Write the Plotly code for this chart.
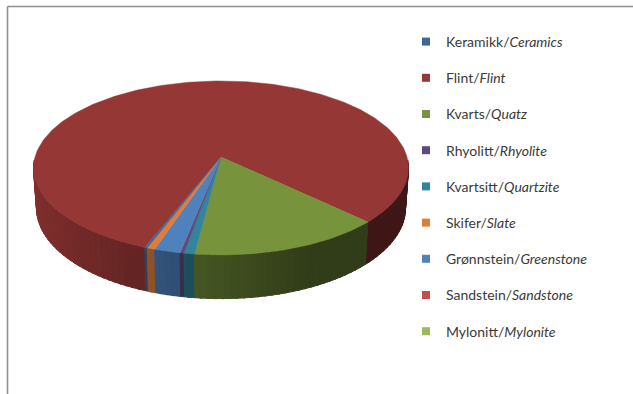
import numpy as np
import plotly.graph_objects as go

# ---- data -------------------------------------------------------------
categories = ["Keramikk", "Flint", "Kvarts", "Rhyolitt", "Kvartsitt",
              "Skifer", "Grønnstein", "Sandstein", "Mylonitt"]
english = ["Ceramics", "Flint", "Quatz", "Rhyolite", "Quartzite",
           "Slate", "Greenstone", "Sandstone", "Mylonite"]
share_pct = [0.2, 81.3, 14.8, 0.3, 0.8, 0.6, 2.0, 0.0, 0.0]
colors = ["#3F6898", "#953735", "#77933C", "#604A7B", "#31859C",
          "#E07B39", "#4F81BD", "#C0504D", "#9BBB59"]

# clockwise order of the slices around the pie, beginning at the Flint edge
slice_order = ["Flint", "Kvarts", "Kvartsitt", "Rhyolitt", "Grønnstein",
               "Skifer", "Keramikk", "Sandstein", "Mylonitt"]
START_DEG = -158.8          # angle of the first slice edge, clockwise from 12 o'clock

# ---- 3-D pie geometry (screen pixels) ---------------------------------
CX, CY = 221.0, 157.0       # projected centre of the top face
SCALE = 186.0               # projected radius
TILT = np.radians(27.4)     # viewing elevation
DIST = 7.05                 # camera distance in radii
THICK = 0.245               # pie thickness in radii


def project(theta_deg, z):
    t = np.radians(np.asarray(theta_deg, dtype=float))
    X, Y = np.sin(t), np.cos(t)
    v = Y * np.sin(TILT) + z * np.cos(TILT)
    w = Y * np.cos(TILT) - z * np.sin(TILT)
    f = 1 + w / DIST
    return CX + SCALE * X / f, CY - SCALE * v / f


def shade(hex_color, k):
    h = hex_color.lstrip("#")
    r, g, b = (int(h[i:i + 2], 16) for i in (0, 2, 4))
    return "rgb({},{},{})".format(int(r * k), int(g * k), int(b * k))


def side_light(theta):
    return max(0.42, 0.55 + 0.32 * np.cos(np.radians(theta - 270)))


color_of = dict(zip(categories, colors))
value_of = dict(zip(categories, share_pct))
total = sum(share_pct)

# slice start / end angles
spans = []
a = START_DEG
for cat in slice_order:
    sweep = 360.0 * value_of[cat] / total
    spans.append((cat, a, a + sweep))
    a += sweep

fig = go.Figure()

# ---- side wall (front half), painted back to front ------------------
side_pieces = []
for cat, a0, a1 in spans:
    for off in (0.0, 360.0, -360.0):
        lo, hi = max(a0 + off, 92.0), min(a1 + off, 268.0)
        if hi <= lo:
            continue
        n = max(1, int(np.ceil((hi - lo) / 2.0)))
        edges = np.linspace(lo, hi, n + 1)
        for e0, e1 in zip(edges[:-1], edges[1:]):
            # pieces overlap their neighbour slightly (inside the same slice)
            # so no hairline seams show between them
            side_pieces.append((cat, e0, min(e1 + 0.6, hi), e1))

side_pieces.sort(key=lambda p: -abs((p[1] + p[3]) / 2 - 180))
for cat, e0, e1, mid_end in side_pieces:
    th = np.linspace(e0, e1, 3)
    xt, yt = project(th, 0.0)
    xb, yb = project(th[::-1], -THICK)
    col = shade(color_of[cat], side_light((e0 + mid_end) / 2))
    fig.add_trace(go.Scatter(
        x=np.concatenate([xt, xb, xt[:1]]), y=np.concatenate([yt, yb, yt[:1]]),
        mode="lines", fill="toself", fillcolor=col,
        line=dict(color=col, width=1), hoverinfo="skip", showlegend=False))

# ---- top face --------------------------------------------------------
for cat, a0, a1 in spans:
    if a1 - a0 <= 0:
        continue
    th = np.linspace(a0, a1, max(3, int(np.ceil((a1 - a0) / 1.0)) + 1))
    xr, yr = project(th, 0.0)
    col = color_of[cat]
    fig.add_trace(go.Scatter(
        x=np.concatenate([[CX], xr, [CX]]), y=np.concatenate([[CY], yr, [CY]]),
        mode="lines", fill="toself", fillcolor=col,
        line=dict(color=col, width=0.5), hoverinfo="skip", showlegend=False))

# ---- legend entries --------------------------------------------------
for cat, eng, col in zip(categories, english, colors):
    fig.add_trace(go.Scatter(
        x=[None], y=[None], mode="markers",
        marker=dict(symbol="square", size=8, color=col),
        name="{}/<i>{}</i>".format(cat, eng), legendgroup=cat, showlegend=True))

# chart frame (top and left edges)
fig.add_shape(type="line", x0=7.5, y0=6.5, x1=633, y1=6.5,
              line=dict(color="#8f8f8f", width=1.6), layer="above")
fig.add_shape(type="line", x0=7.5, y0=6.5, x1=7.5, y1=394,
              line=dict(color="#8f8f8f", width=1.6), layer="above")

fig.update_layout(
    width=633, height=394,
    margin=dict(l=0, r=0, t=0, b=0),
    paper_bgcolor="white", plot_bgcolor="white",
    xaxis=dict(range=[0, 633], visible=False, fixedrange=True),
    yaxis=dict(range=[394, 0], visible=False, fixedrange=True),
    showlegend=True,
    legend=dict(x=406 / 633, xanchor="left", y=1 - 26 / 394, yanchor="top",
                bgcolor="rgba(0,0,0,0)", tracegroupgap=15, traceorder="grouped",
                font=dict(family="Lato", size=14, color="#3a3a3a")),
)

fig.write_html("out.html")
